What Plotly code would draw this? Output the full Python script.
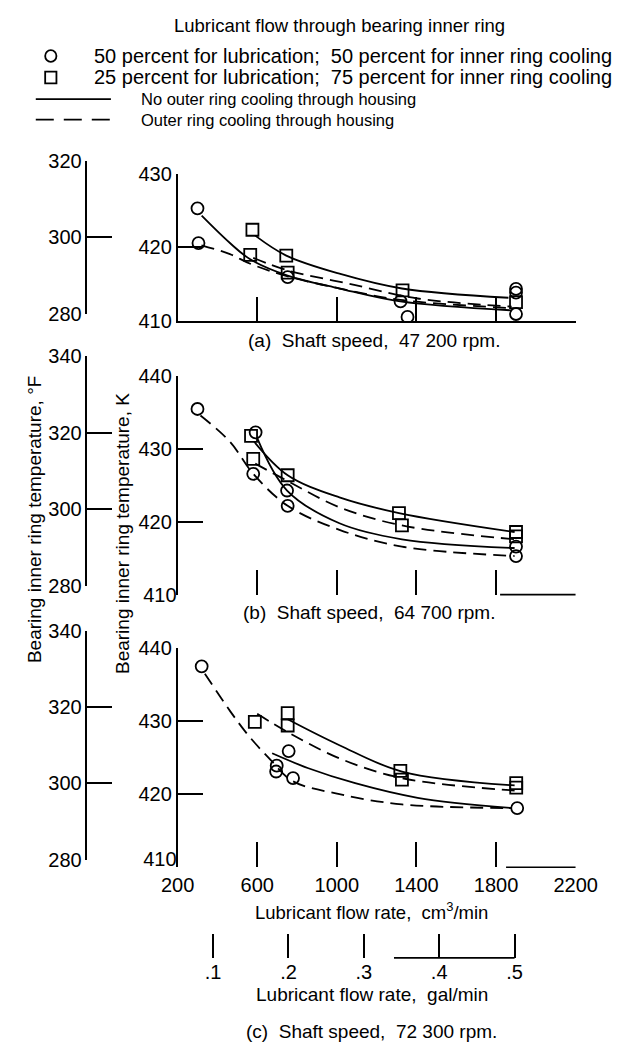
import plotly.graph_objects as go

W, H = 640, 1058
TXT = "Liberation Sans, Arial, sans-serif"
NUM = "Liberation Sans Narrow, Arial Narrow, Liberation Sans, sans-serif"
CM3_PER_GAL = 3785.41

# ---------------- data ----------------
cm3_ticks = [200, 600, 1000, 1400, 1800, 2200]
gal_ticks = [0.1, 0.2, 0.3, 0.4, 0.5]
gal_tick_text = [".1", ".2", ".3", ".4", ".5"]

# (a) Shaft speed 47 200 rpm
a_k_ticks = [410, 420, 430]
a_f_ticks = [280, 300, 320]
a_circle_x = [300, 305, 753, 1320, 1355, 1900, 1900, 1900]
a_circle_y = [425.3, 420.6, 416.0, 412.7, 410.6, 414.4, 413.9, 411.0]
a_square_x = [576, 565, 746, 753, 1330, 1900]
a_square_y = [422.4, 419.0, 418.9, 416.6, 414.2, 412.6]
a_solid_sq_x = [590, 746, 1013, 1327, 1862]
a_solid_sq_y = [421.6, 418.9, 416.45, 414.45, 413.2]
a_solid_ci_x = [321, 463, 565, 753, 1013, 1319, 1878]
a_solid_ci_y = [424.3, 420.6, 418.4, 416.2, 414.45, 412.7, 411.5]
a_dash_ci_x = [320, 463, 565, 753, 1060, 1319, 1878]
a_dash_ci_y = [420.3, 419.1, 417.8, 416.1, 414.2, 412.9, 411.8]
a_dash_sq_x = [580, 753, 1060, 1406, 1878]
a_dash_sq_y = [418.6, 416.9, 415.1, 413.1, 412.0]

# (b) Shaft speed 64 700 rpm
b_k_ticks = [420, 430, 440]
b_f_ticks = [280, 300, 320, 340]
b_circle_x = [300, 592, 580, 750, 753, 1900, 1900]
b_circle_y = [435.5, 432.3, 426.6, 424.3, 422.2, 416.6, 415.3]
b_square_x = [569, 580, 753, 1312, 1327, 1900, 1900]
b_square_y = [431.8, 428.65, 426.4, 421.2, 419.5, 418.6, 418.0]
b_dash_ci_x = [315, 463, 580, 753, 1013, 1327, 1893]
b_dash_ci_y = [434.6, 431.0, 426.6, 422.2, 418.9, 416.6, 415.3]
b_solid_ci_x = [600, 750, 1013, 1327, 1893]
b_solid_ci_y = [431.5, 424.3, 419.8, 417.6, 416.4]
b_solid_sq_x = [585, 753, 1013, 1312, 1893]
b_solid_sq_y = [431.0, 426.4, 423.35, 421.2, 418.6]
b_dash_sq_x = [590, 753, 1013, 1327, 1893]
b_dash_sq_y = [428.0, 425.6, 422.0, 419.5, 417.6]

# (c) Shaft speed 72 300 rpm
c_k_ticks = [420, 430, 440]
c_f_ticks = [280, 300, 320, 340]
c_circle_x = [321, 758, 698, 695, 780, 1906]
c_circle_y = [437.5, 425.9, 423.9, 423.1, 422.2, 418.1]
c_square_x = [588, 753, 753, 1319, 1327, 1901, 1901]
c_square_y = [429.9, 431.1, 429.4, 423.2, 422.0, 421.5, 420.9]
c_dash_ci_x = [337, 463, 557, 667, 777, 1013, 1327, 1878]
c_dash_ci_y = [436.5, 431.4, 428.0, 424.7, 421.8, 420.0, 418.6, 418.1]
c_solid_ci_x = [675, 857, 1092, 1406, 1878]
c_solid_ci_y = [425.6, 423.55, 421.5, 419.5, 418.1]
c_solid_sq_x = [753, 1013, 1327, 1893]
c_solid_sq_y = [430.25, 426.7, 423.1, 421.2]
c_dash_sq_x = [600, 753, 1013, 1327, 1893]
c_dash_sq_y = [431.0, 428.5, 424.9, 422.2, 420.5]

# ---------------- helpers ----------------
def fx(p):
    return p / W

def fy(p):
    return 1 - p / H

LW = 1.8
DASH = "13px,7px"

fig = go.Figure()

def curve(x, y, dashed, xa, ya):
    fig.add_trace(go.Scatter(
        x=x, y=y, mode="lines", xaxis=xa, yaxis=ya, hoverinfo="skip", showlegend=False,
        line=dict(color="black", width=LW, dash=DASH if dashed else "solid",
                  shape="spline", smoothing=1.0)))

def marks(x, y, symbol, xa, ya):
    fig.add_trace(go.Scatter(
        x=x, y=y, mode="markers", xaxis=xa, yaxis=ya, hoverinfo="skip", showlegend=False,
        marker=dict(symbol=symbol, size=12, color="black", line=dict(color="black", width=1.8))))

def dummy(xa, ya):
    fig.add_trace(go.Scatter(x=[None], y=[None], mode="markers", xaxis=xa, yaxis=ya,
                             hoverinfo="skip", showlegend=False))

# panel (a)
curve(a_solid_sq_x, a_solid_sq_y, False, "x", "y")
curve(a_solid_ci_x, a_solid_ci_y, False, "x", "y")
curve(a_dash_ci_x, a_dash_ci_y, True, "x", "y")
curve(a_dash_sq_x, a_dash_sq_y, True, "x", "y")
marks(a_circle_x, a_circle_y, "circle-open", "x", "y")
marks(a_square_x, a_square_y, "square-open", "x", "y")
# panel (b)
curve(b_dash_ci_x, b_dash_ci_y, True, "x2", "y2")
curve(b_solid_ci_x, b_solid_ci_y, False, "x2", "y2")
curve(b_solid_sq_x, b_solid_sq_y, False, "x2", "y2")
curve(b_dash_sq_x, b_dash_sq_y, True, "x2", "y2")
marks(b_circle_x, b_circle_y, "circle-open", "x2", "y2")
marks(b_square_x, b_square_y, "square-open", "x2", "y2")
# panel (c)
curve(c_dash_ci_x, c_dash_ci_y, True, "x3", "y3")
curve(c_solid_ci_x, c_solid_ci_y, False, "x3", "y3")
curve(c_solid_sq_x, c_solid_sq_y, False, "x3", "y3")
curve(c_dash_sq_x, c_dash_sq_y, True, "x3", "y3")
marks(c_circle_x, c_circle_y, "circle-open", "x3", "y3")
marks(c_square_x, c_square_y, "square-open", "x3", "y3")
# extra axes
dummy("x", "y4")
dummy("x2", "y5")
dummy("x3", "y6")
dummy("x2", "y7")
dummy("x3", "y8")
dummy("x4", "y3")

numfont = dict(family=NUM, size=20, color="black")
XDOM = [fx(171), fx(595)]

def xax(anchor, line, labels):
    return dict(domain=XDOM, range=[200, 2200], anchor=anchor, tickvals=cm3_ticks,
                ticks="inside", ticklen=25, tickwidth=1.6, tickcolor="black",
                showticklabels=labels, tickfont=numfont, ticklabelstandoff=4,
                showgrid=False, zeroline=False, showline=line, linecolor="black",
                linewidth=1.6)

def kax(anchor, top, bottom, rng, tv):
    return dict(domain=[fy(bottom), fy(top)], range=rng, anchor=anchor, tickvals=tv,
                ticks="inside", ticklen=26, tickwidth=1.6, tickcolor="black",
                tickfont=numfont, showgrid=False, zeroline=False, showline=True,
                linecolor="black", linewidth=1.6)

def fax(top, bottom, rng, tv):
    return dict(domain=[fy(bottom), fy(top)], range=rng, anchor="free", position=fx(74),
                tickvals=tv, ticks="inside", ticklen=25, tickwidth=1.6, tickcolor="black",
                tickfont=numfont, showgrid=False, zeroline=False, showline=True,
                linecolor="black", linewidth=1.6)

def lab410(base, anchor, rng, shift):
    return dict(overlaying=base, anchor=anchor, range=rng, tickvals=[410], ticks="",
                tickfont=numfont, ticklabelshift=shift, showgrid=False, zeroline=False,
                showline=False, side="left")

fig.update_layout(
    width=W, height=H, margin=dict(l=0, r=0, t=0, b=0),
    paper_bgcolor="white", plot_bgcolor="rgba(0,0,0,0)", showlegend=False,
    xaxis=xax("y", True, False),
    xaxis2=xax("y2", False, False),
    xaxis3=xax("y3", False, True),
    xaxis4=dict(domain=XDOM, range=[200 / CM3_PER_GAL, 2200 / CM3_PER_GAL], anchor="free",
                position=fy(967), tickvals=gal_ticks, ticktext=gal_tick_text,
                ticks="inside", ticklen=24, tickwidth=1.8, tickcolor="black",
                tickfont=numfont, ticklabelstandoff=0, showgrid=False, zeroline=False,
                showline=False),
    yaxis=kax("x", 166, 317, [410, 430], a_k_ticks),
    yaxis2=kax("x2", 373, 596, [410, 440], b_k_ticks),
    yaxis3=kax("x3", 650.6, 874.4, [410, 440], c_k_ticks),
    yaxis4=fax(153.3, 309.3, [280, 320], a_f_ticks),
    yaxis5=fax(352, 587.5, [280, 340], b_f_ticks),
    yaxis6=fax(633, 866.7, [280, 340], c_f_ticks),
    yaxis7=lab410("y2", "x2", [410, 440], 0),
    yaxis8=lab410("y3", "x3", [410, 440], -8),
)

# partial baselines and gal/min axis segment
shapes = [
    dict(type="line", xref="x2", yref="paper", x0=1820, x1=2200, y0=fy(596), y1=fy(596),
         line=dict(color="black", width=1.6)),
    dict(type="line", xref="x3", yref="paper", x0=1850, x1=2200, y0=fy(874.4), y1=fy(874.4),
         line=dict(color="black", width=1.6)),
    dict(type="line", xref="x4", yref="paper", x0=0.34, x1=0.5, y0=fy(967), y1=fy(967),
         line=dict(color="black", width=1.8)),
    # legend keys
    dict(type="line", xref="paper", yref="paper", x0=fx(20), x1=fx(100), y0=fy(90), y1=fy(90),
         line=dict(color="black", width=1.8)),
    dict(type="line", xref="paper", yref="paper", x0=fx(20), x1=fx(100), y0=fy(111), y1=fy(111),
         line=dict(color="black", width=1.8, dash="18px,10px")),
    dict(type="circle", xref="paper", yref="paper", x0=fx(30), x1=fx(42), y0=fy(52), y1=fy(40),
         line=dict(color="black", width=1.8)),
    dict(type="rect", xref="paper", yref="paper", x0=fx(30), x1=fx(42), y0=fy(74), y1=fy(62),
         line=dict(color="black", width=1.8)),
]
fig.update_layout(shapes=shapes)

def ann(text, x, y, size=19, xanchor="center", angle=0):
    fig.add_annotation(text=text, x=fx(x), y=fy(y), xref="paper", yref="paper",
                       xanchor=xanchor, yanchor="middle", showarrow=False,
                       font=dict(family=TXT, size=size, color="black"),
                       textangle=angle)

ann("Lubricant flow through bearing inner ring", 343, 15, 18.5)
ann("50 percent for lubrication;  50 percent for inner ring cooling", 80, 46, 20, "left")
ann("25 percent for lubrication;  75 percent for inner ring cooling", 80, 67, 20, "left")
ann("No outer ring cooling through housing", 130, 90, 16.5, "left")
ann("Outer ring cooling through housing", 130, 111, 16.5, "left")
ann("(a)  Shaft speed,  47 200 rpm.", 380, 337)
ann("(b)  Shaft speed,  64 700 rpm.", 375, 614)
ann("Lubricant flow rate,  cm<sup>3</sup>/min", 378, 919, 18.5)
ann("Lubricant flow rate,  gal/min", 378, 1004)
ann("(c)  Shaft speed,  72 300 rpm.", 377, 1042)
ann("Bearing inner ring temperature, °F", 18, 519, angle=-90)
ann("Bearing inner ring temperature, K", 113, 534, angle=-90)

fig.write_html("out.html")
